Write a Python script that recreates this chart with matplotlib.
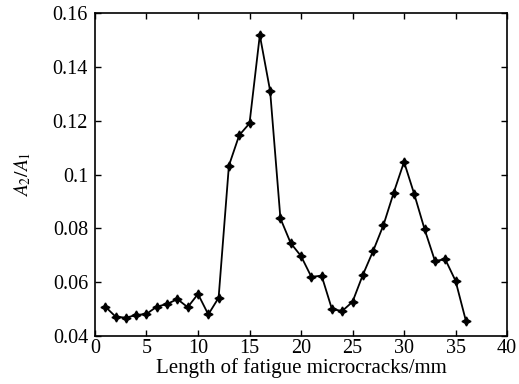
import matplotlib
matplotlib.use("Agg")
import matplotlib.pyplot as plt
from matplotlib.ticker import FuncFormatter

x_len = list(range(1, 37))
ratio = [0.0509, 0.0472, 0.0468, 0.0478, 0.0482, 0.0509, 0.0519, 0.0537, 0.0507, 0.0556,
         0.0480, 0.0542, 0.1033, 0.1146, 0.1190, 0.1518, 0.1311, 0.0837, 0.0745, 0.0697,
         0.0620, 0.0624, 0.0500, 0.0493, 0.0527, 0.0627, 0.0716, 0.0812, 0.0933, 0.1047,
         0.0926, 0.0796, 0.0679, 0.0685, 0.0605, 0.0457]
xticks = [0, 5, 10, 15, 20, 25, 30, 35, 40]
yticks = [0.04, 0.06, 0.08, 0.1, 0.12, 0.14, 0.16]

plt.rcParams['font.family'] = ['Liberation Serif', 'DejaVu Serif']
plt.rcParams['mathtext.fontset'] = 'stix'

fig = plt.figure(figsize=(5.19, 3.84), dpi=100)
ax = fig.add_axes([0.183, 0.125, 0.794, 0.841])
ax.plot(x_len, ratio, color='black', lw=1.3, marker=(4, 1, 0), markersize=6.5)
ax.set_xlim(0, 40)
ax.set_ylim(0.04, 0.16)
ax.set_xticks(xticks)
ax.set_yticks(yticks)
ax.yaxis.set_major_formatter(FuncFormatter(lambda v, p: f"{v:g}"))
ax.tick_params(direction='in', top=True, right=True, labelsize=14.5, length=4, width=1, pad=2)
ax.tick_params(axis='y', pad=5)
for s in ax.spines.values():
    s.set_linewidth(1.2)
ax.set_xlabel('Length of fatigue microcracks/mm', fontsize=15, labelpad=0.5)
ax.set_ylabel(r'$A_2/A_1$', fontsize=14, labelpad=14)
fig.savefig('out.png', dpi=100)
